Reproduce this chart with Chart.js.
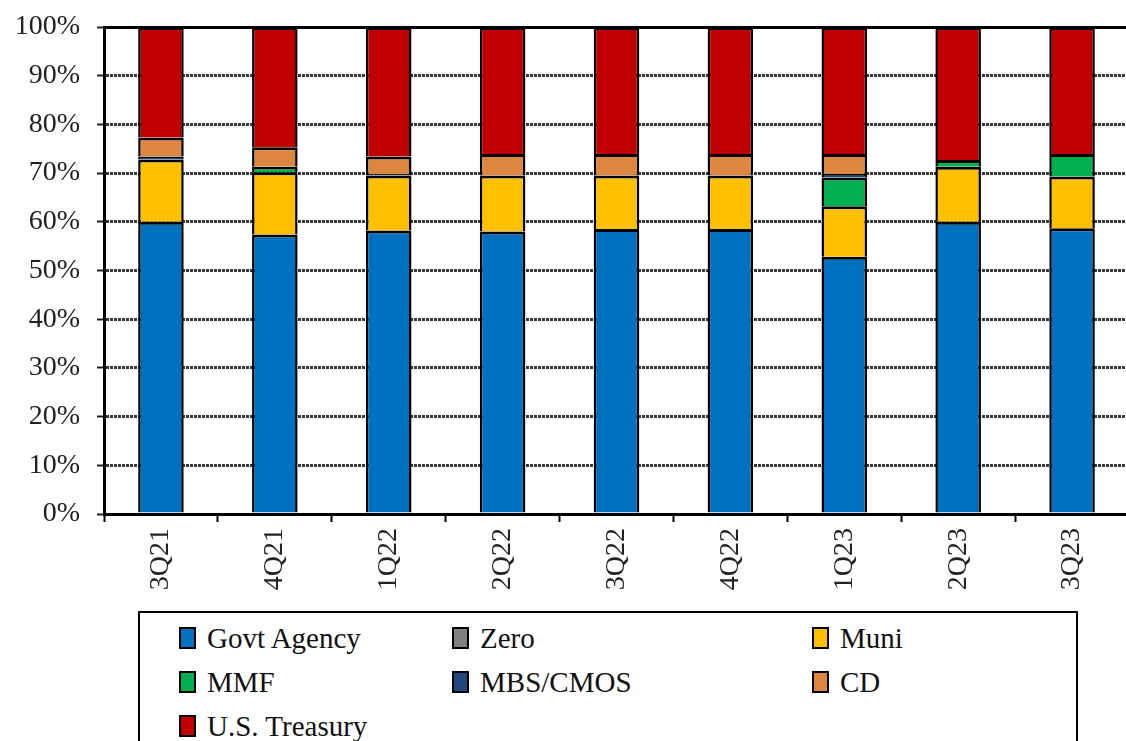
<!DOCTYPE html>
<html>
<head>
<meta charset="utf-8">
<script src="https://cdn.jsdelivr.net/npm/chart.js@4.4.0/dist/chart.umd.min.js"></script>
<style>
html,body{margin:0;padding:0;background:#fff;overflow:hidden;width:1126px;height:741px}
#wrap{position:absolute;left:0;top:0;width:1132px;height:605px}
#legend{position:absolute;left:138px;top:611px;width:940px;height:160px;border:2.5px solid #000;box-sizing:border-box;
  font-family:"Liberation Serif","Times New Roman","Nimbus Roman","DejaVu Serif",serif;font-size:29px;color:#111;
  display:grid;grid-template-columns:273px 360px auto;grid-auto-rows:44px;padding:3px 0 0 39px}
.item{display:flex;align-items:center}
.sq{width:13px;height:18px;border:2px solid #000;margin-right:11px}
</style>
</head>
<body>
<div id="wrap"><canvas id="chart1" width="1132" height="605"></canvas></div>
<div id="legend"></div>
<script>
var quarters=['3Q21','4Q21','1Q22','2Q22','3Q22','4Q22','1Q23','2Q23','3Q23']
var govtAgency=[60.0,57.4,58.2,58.0,58.5,58.5,52.8,60.0,58.7]
var zero=[0,0,0,0,0,0,0,0,0]
var muni=[12.8,12.8,11.3,11.5,11.0,11.0,10.4,11.3,10.6]
var mmf=[0,1.1,0,0,0,0,5.9,1.4,4.6]
var mbsCmos=[0.6,0,0.3,0,0,0,0.7,0,0]
var cd=[3.9,4.0,3.6,4.4,4.4,4.4,4.1,0,0]
var usTreasury=[22.7,24.7,26.6,26.1,26.1,26.1,26.1,27.3,26.1]
var yTicks=[0,10,20,30,40,50,60,70,80,90,100]

var serif='"Liberation Serif","Times New Roman","Nimbus Roman","DejaVu Serif",serif'

const makeSet = function(label,data,color){
	return {
		"label":label,
		// empty segments are left out so they leave no seam
		"data":data.map(v => v === 0 ? null : v),
		"backgroundColor":color,
		"borderColor":"#000",
		// only the top edge of each segment gets a rule, so two black edges never meet
		"borderWidth":{"left":2.5,"right":2.5,"top":3,"bottom":0},
		"borderSkipped":false,
		"barPercentage":0.4,
		"categoryPercentage":1.0
	}
}

var datasets=[
	makeSet("Govt Agency",govtAgency,"#0070C0"),
	makeSet("Zero",zero,"#808080"),
	makeSet("Muni",muni,"#FFC000"),
	makeSet("MMF",mmf,"#00B050"),
	makeSet("MBS/CMOS",mbsCmos,"#1F497D"),
	makeSet("CD",cd,"#DD8640"),
	makeSet("U.S. Treasury",usTreasury,"#C00000")
]

var chart = new Chart(document.getElementById("chart1"),{
	"type":"bar",
	"data":{"labels":quarters,"datasets":datasets},
	"options":{
		"responsive":false,
		"animation":false,
		"layout":{"padding":{"top":27,"right":3,"left":0,"bottom":0}},
		"plugins":{"legend":{"display":false},"tooltip":{"enabled":false}},
		"scales":{
			"x":{
				"stacked":true,
				"grid":{"offset":true,"drawOnChartArea":false,"tickLength":8,"tickWidth":2,"tickColor":"#000"},
				"border":{"color":"#000","width":3},
				"ticks":{"autoSkip":false,"minRotation":90,"maxRotation":90,"padding":6,"color":"#222",
					"font":{"family":serif,"size":28}},
				"afterFit":function(s){ s.height=91 }
			},
			"x2":{
				"type":"category",
				"labels":quarters,
				"position":"top",
				"grid":{"display":false,"drawTicks":false},
				"ticks":{"display":false},
				"border":{"color":"#000","width":3},
				"afterFit":function(s){ s.height=0 }
			},
			"y":{
				"stacked":true,
				"min":0,
				"max":100,
				"afterBuildTicks":function(s){ s.ticks=yTicks.map(v => ({value:v})) },
				"grid":{"color":"#3a3a3a","lineWidth":3,"tickLength":7,"tickColor":"#222","tickWidth":2},
				"border":{"color":"#000","width":3,"dash":[3,1]},
				"ticks":{"padding":17,"color":"#222","font":{"family":serif,"size":28},
					"callback":function(v){ return v+'%' }},
				// keep the plot top fixed, the label overhang would push it down
				"afterFit":function(s){ s.width=104; s.paddingTop=0; s.paddingBottom=0 }
			}
		}
	}
})

// legend laid out in three columns like the original
var legend=document.getElementById("legend")
datasets.map(ds => {
	var item=document.createElement("div")
	item.className="item"
	item.innerHTML='<span class="sq" style="background:'+ds.backgroundColor+'"></span><span>'+ds.label+'</span>'
	legend.appendChild(item)
})
</script>
</body>
</html>
